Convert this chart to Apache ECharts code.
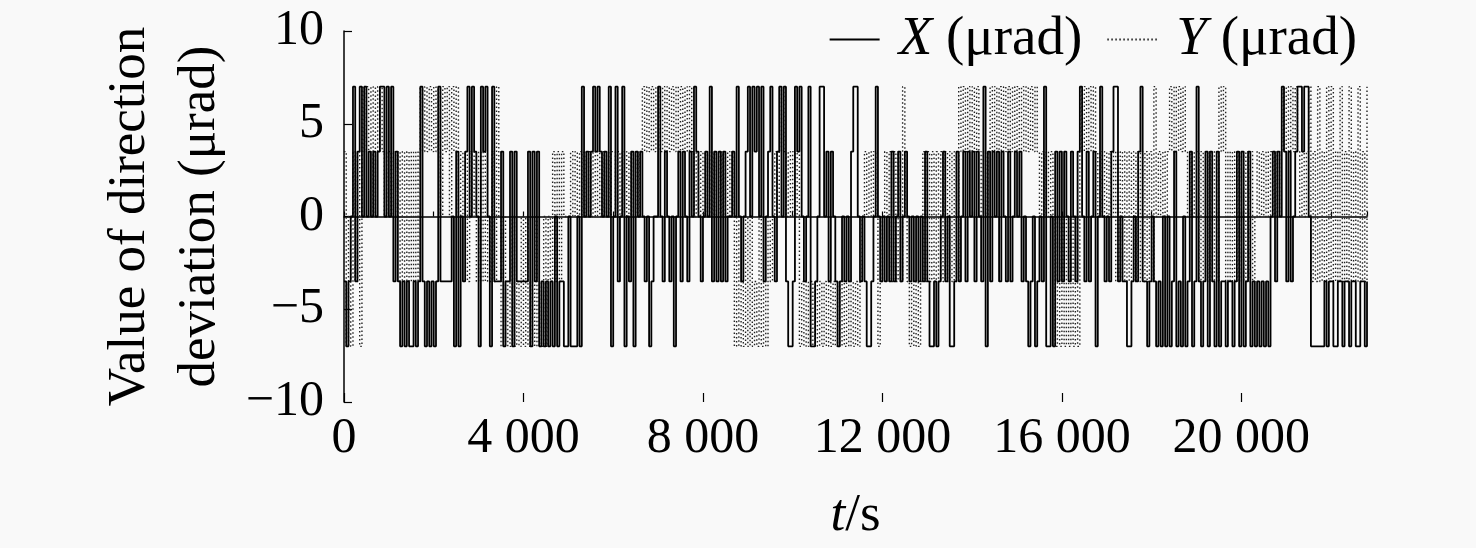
<!DOCTYPE html>
<html><head><meta charset="utf-8">
<script src="https://cdn.jsdelivr.net/npm/echarts@6/dist/echarts.min.js"></script>
<style>html,body{margin:0;padding:0;background:#f9f9f9}#c{width:1476px;height:548px}</style>
</head><body><div id="c"></div>
<script>
// level codes: 0=-7, 1=-3.5, 2=0, 3=3.5, 4=7 ; one code per 50 s sample
const levels = [-7, -3.5, 0, 3.5, 7];
const sampleStep = 50;
const xCodes = [
  "10124134242323234424","24131010100101410101","01411111203021342432","04342041113011303111",
  "11303130101010201100","20002042323434323240","24124021303232120122","42132120231321324321",
  "23241313131223242123","42434241234213424100","14342124001244231321","01212134421210012421",
  "21213123123212121213","10010123120013123132","31321403132313213123","23121012012140020313",
  "13213213421312302421","21344121100121341101","21010202013010201301","41013031030110110130",
  "30130101010102313243","13123443442000000101","10011011011001101"
];
const yCodes = [
  "30203130434342434323","32323131313131434343","43424342434232313231","31312131420201020102",
  "02010201020213131322","23232323232323232323","32323232323234343434","43434343434343432323",
  "23232323232323020102","02010201021232343232","32301010101010101010","10101010101232323201",
  "23231313142101010131","31313131313131434343","43432323434343434343","43434343432323232020",
  "20202020434343432323","23231313131313131313","14232323434343432323","31313131314341313131",
  "31313123232323232343","43434323234131413141","41314131413141314"
];
const xTickValues = [0, 4000, 8000, 12000, 16000, 20000];
const xTickLabels = ['0', '4 000', '8 000', '12 000', '16 000', '20 000'];
const yTickValues = [-10, -5, 0, 5, 10];
const yTickLabels = ['\u221210', '\u22125', '0', '5', '10'];
const seriesNames = ['X (μrad)', 'Y (μrad)'];

function build(codes) {
  const s = codes.join('');
  const out = [];
  for (let i = 0; i < s.length; i++) out.push([i * sampleStep, levels[+s[i]]]);
  return out;
}
const xData = build(xCodes);
const yData = build(yCodes);
const FONT = 'Liberation Serif';
const xMax = 22800;

const chart = echarts.init(document.getElementById('c'), null, {renderer: 'canvas'});
chart.setOption({
  backgroundColor: '#f9f9f9',
  animation: false,
  textStyle: {fontFamily: FONT, color: '#000'},
  grid: {left: 344, right: 109, top: 31, bottom: 140, containLabel: false},
  legend: {
    right: 114, top: 7, itemWidth: 50, itemHeight: 14, itemGap: 24,
    data: seriesNames,
    itemStyle: {opacity: 0},
    formatter: n => '{i|' + n[0] + '} ' + n.slice(2),
    textStyle: {fontFamily: FONT, fontSize: 55, color: '#000',
      rich: {i: {fontFamily: FONT, fontStyle: 'italic', fontSize: 55, color: '#000', padding: [0, 0, 0, 14]}}}
  },
  xAxis: [{
    type: 'value', min: 0, max: xMax, interval: 2000, position: 'bottom',
    axisLine: {lineStyle: {color: '#000', width: 1.5}},
    axisTick: {inside: true, length: 5, lineStyle: {color: '#000', width: 1.2}},
    axisLabel: {show: false}, splitLine: {show: false},
    name: '{i|t}/s', nameLocation: 'middle', nameGap: 88,
    nameTextStyle: {fontFamily: FONT, fontSize: 53, color: '#000',
      rich: {i: {fontFamily: FONT, fontStyle: 'italic', fontSize: 53, color: '#000'}}}
  }, {
    type: 'value', min: 0, max: xMax, interval: 4000, position: 'bottom',
    axisLine: {show: false},
    axisTick: {inside: true, length: 9, lineStyle: {color: '#000', width: 1.2}},
    axisLabel: {margin: 12, fontSize: 50, fontFamily: FONT, color: '#000', showMaxLabel: false,
      formatter: v => { const k = xTickValues.indexOf(v); return k >= 0 ? xTickLabels[k] : ''; }},
    splitLine: {show: false}
  }],
  yAxis: {
    type: 'value', min: -10, max: 10, interval: 5,
    axisLine: {show: true, lineStyle: {color: '#000', width: 1.5}},
    axisTick: {show: true, inside: true, length: 8, lineStyle: {color: '#000', width: 1.2}},
    axisLabel: {margin: 20, fontSize: 50, fontFamily: FONT, color: '#000',
      formatter: v => { const k = yTickValues.indexOf(v); return k >= 0 ? yTickLabels[k] : ''; }},
    splitLine: {show: false},
    name: 'Value of direction\ndeviation (μrad)', nameLocation: 'middle', nameGap: 102,
    nameTextStyle: {fontFamily: FONT, fontSize: 53, lineHeight: 70, color: '#000'}
  },
  series: [{
    name: seriesNames[0], type: 'line', step: 'end', data: xData, symbol: 'none', z: 4,
    xAxisIndex: 0,
    lineStyle: {color: '#000', width: 1.8, type: 'solid'}, itemStyle: {color: '#000'}
  }, {
    name: seriesNames[1], type: 'line', step: 'end', data: yData, symbol: 'none', z: 3,
    xAxisIndex: 0,
    lineStyle: {color: '#222', width: 1.4, type: [1.5, 2.5]}, itemStyle: {color: '#222'}
  }]
});
</script></body></html>
